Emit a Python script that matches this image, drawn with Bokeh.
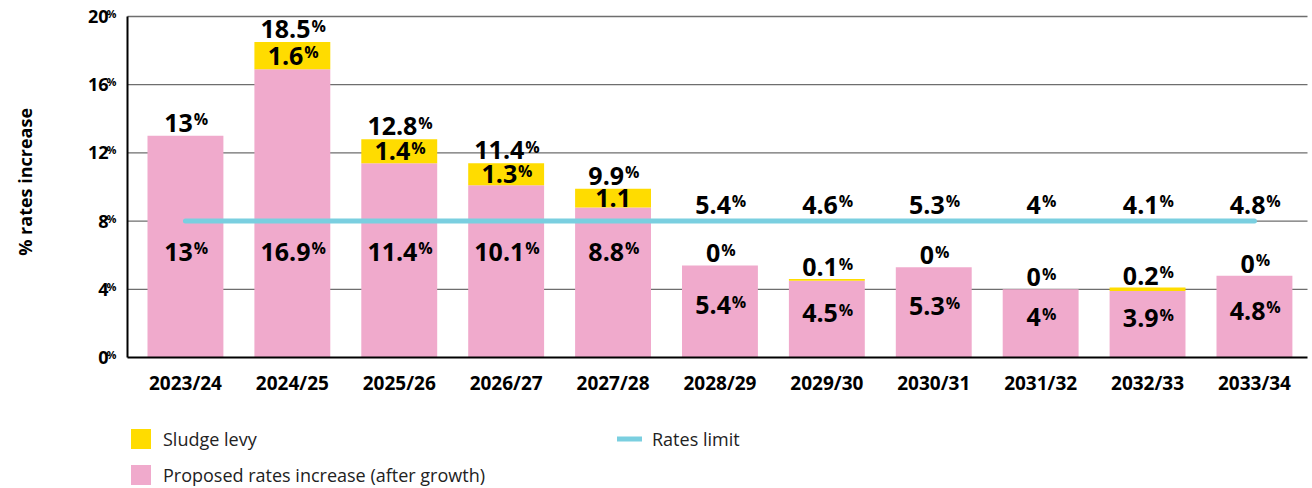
import numpy as np
from bokeh.plotting import figure
from bokeh.models import (ColumnDataSource, Range1d, LabelSet, Label, Legend, LegendItem)
from bokeh.embed import file_html
from bokeh.resources import INLINE
from bokeh.core.properties import value

# ---------------- data ----------------
categories = ["2023/24", "2024/25", "2025/26", "2026/27", "2027/28", "2028/29",
              "2029/30", "2030/31", "2031/32", "2032/33", "2033/34"]
proposed = [13, 16.9, 11.4, 10.1, 8.8, 5.4, 4.5, 5.3, 4, 3.9, 4.8]
sludge = [0, 1.6, 1.4, 1.3, 1.1, 0, 0.1, 0, 0, 0.2, 0]
totals = [13, 18.5, 12.8, 11.4, 9.9, 5.4, 4.6, 5.3, 4, 4.1, 4.8]
sludge_labels = ["", "1.6%", "1.4%", "1.3%", "1.1", "0%", "0.1%", "0%", "0%", "0.2%", "0%"]
rates_limit = [8, 8, 8, 8, 8, 8, 8, 8, 8, 8, 8]
y_ticks = [0, 4, 8, 12, 16, 20]

PINK = "#F0AACC"
YELLOW = "#FFDC00"
BLUE = "#7ACFE0"
GRID = "#6e6e6e"
FONT = "Open Sans"

NUM_SIZE = 25
PCT_SIZE = 16
CAP = 0.714

W, H = 1312, 488
AXIS_PX, BAND_PX, RIGHT_PX = 127, 131.5, 1307   # axis line, first band start, grid end
PLOT_TOP, PLOT_BOTTOM = 16, 357
n = len(categories)
CAT_PX = 106.9                                   # pixels per category
Y_MAX = y_ticks[-1]
PX_PER_UNIT = (PLOT_BOTTOM - PLOT_TOP) / Y_MAX


def text_width(s, size):
    w = 0.0
    for ch in s:
        if ch.isdigit():
            w += 0.572
        elif ch == ".":
            w += 0.28
        elif ch == "%":
            w += 0.86
        elif ch == "/":
            w += 0.37
        else:
            w += 0.5
    return w * size


def fmt(v):
    return f"{v:g}"


# ---------------- figure: frame covers whole canvas ----------------
x_start = -BAND_PX / CAT_PX
x_end = (W - BAND_PX) / CAT_PX
y_start = -(H - PLOT_BOTTOM) / PX_PER_UNIT
y_end = Y_MAX + PLOT_TOP / PX_PER_UNIT
axis_x = (AXIS_PX - BAND_PX) / CAT_PX
grid_x1 = (RIGHT_PX - BAND_PX) / CAT_PX

p = figure(x_range=Range1d(x_start, x_end), y_range=Range1d(y_start, y_end),
           width=W, height=H, output_backend="svg", toolbar_location=None,
           x_axis_location=None, y_axis_location=None,
           min_border=0, min_border_left=0, min_border_right=0,
           min_border_top=0, min_border_bottom=0)
p.outline_line_color = None
p.xgrid.visible = False
p.ygrid.visible = False
p.background_fill_color = "white"
p.border_fill_color = "white"

xs = [i + 0.5 for i in range(n)]
src = ColumnDataSource(dict(x=xs, cat=categories, proposed=proposed, sludge=sludge,
                            totals=totals, limit=rates_limit))

# grid lines
gy = y_ticks[1:]
p.segment(x0=[axis_x] * len(gy), x1=[grid_x1] * len(gy), y0=gy, y1=gy,
          line_color=GRID, line_width=1.3)

r_pink = p.vbar(x="x", top="proposed", bottom=0, width=0.71, source=src,
                fill_color=PINK, line_color=None)
r_yel = p.vbar(x="x", bottom="proposed", top="totals", width=0.71, source=src,
               fill_color=YELLOW, line_color=None)

# axis lines
p.segment(x0=[axis_x, axis_x], y0=[0, 0], x1=[grid_x1, axis_x], y1=[0, Y_MAX],
          line_color="black", line_width=2)

r_lim = p.line(x="x", y="limit", source=src, line_color=BLUE, line_width=5,
               line_cap="round")

# ---------------- value labels ----------------
recs = dict(x=[], y=[], num=[], pct=[], xo_num=[], xo_pct=[], yo_num=[], yo_pct=[])


def add_label(x, y, text, base_off):
    has_pct = text.endswith("%")
    num = text[:-1] if has_pct else text
    wn = text_width(num, NUM_SIZE)
    wp = text_width("%", PCT_SIZE) if has_pct else 0
    gw = wn + wp
    recs["x"].append(x)
    recs["y"].append(y)
    recs["num"].append(num)
    recs["pct"].append("%" if has_pct else "")
    recs["xo_num"].append(-gw / 2)
    recs["xo_pct"].append(-gw / 2 + wn + 1)
    recs["yo_num"].append(base_off)
    recs["yo_pct"].append(base_off + (CAP * NUM_SIZE - CAP * PCT_SIZE))


half_cap = CAP * NUM_SIZE / 2
for x, pr, s, t, sl in zip(xs, proposed, sludge, totals, sludge_labels):
    add_label(x, max(t, 8.2), fmt(t) + "%", 4)
    if sl:
        if s >= 1:
            add_label(x, pr + s / 2, sl, -half_cap)
        else:
            add_label(x, t, sl, 3)
    py = 6.2 if pr >= 8 else pr / 2 + 0.35
    add_label(x, py, fmt(pr) + "%", -half_cap)

lsrc = ColumnDataSource(recs)
p.add_layout(LabelSet(x="x", y="y", text="num", source=lsrc, x_offset="xo_num",
                      y_offset="yo_num", text_align="left", text_baseline="alphabetic",
                      text_font=value(FONT), text_font_style="bold",
                      text_font_size=f"{NUM_SIZE}px", text_color="black"))
p.add_layout(LabelSet(x="x", y="y", text="pct", source=lsrc, x_offset="xo_pct",
                      y_offset="yo_pct", text_align="left", text_baseline="alphabetic",
                      text_font=value(FONT), text_font_style="bold",
                      text_font_size=f"{PCT_SIZE}px", text_color="black"))

# ---------------- x tick labels ----------------
xsrc = ColumnDataSource(dict(x=xs, y=[0] * n, t=categories))
p.add_layout(LabelSet(x="x", y="y", text="t", source=xsrc, y_offset=-32.5,
                      text_align="center", text_baseline="alphabetic",
                      text_font=value(FONT), text_font_style="bold",
                      text_font_size="19px", text_color="black"))

# ---------------- y tick labels with superscript % ----------------
tsrc = ColumnDataSource(dict(x=[axis_x] * len(y_ticks), y=y_ticks,
                             t=[fmt(v) for v in y_ticks], pct=["%"] * len(y_ticks)))
p.add_layout(LabelSet(x="x", y="y", text="t", source=tsrc, x_offset=-19,
                      text_align="right", text_baseline="alphabetic", y_offset=-6.4,
                      text_font=value(FONT), text_font_style="bold",
                      text_font_size="18px", text_color="black"))
p.add_layout(LabelSet(x="x", y="y", text="pct", source=tsrc, x_offset=-11,
                      text_align="right", text_baseline="alphabetic", y_offset=-1.5,
                      text_font=value(FONT), text_font_style="bold",
                      text_font_size="11px", text_color="black"))

p.add_layout(Label(x=24, y=10.3, x_units="screen", text="% rates increase",
                   angle=np.pi / 2, text_align="center", text_baseline="middle",
                   text_font=FONT, text_font_style="bold",
                   text_font_size="18px", text_color="black"))

# ---------------- legend ----------------
legend = Legend(items=[LegendItem(label="Sludge levy", renderers=[r_yel]),
                       LegendItem(label="Proposed rates increase (after growth)", renderers=[r_pink]),
                       LegendItem(label="Rates limit", renderers=[r_lim])],
                location=(128, 1), orientation="vertical", nrows=2,
                glyph_width=25, glyph_height=25, label_standoff=10, label_width=443,
                label_height=25, spacing=11, padding=0, margin=0,
                border_line_color=None, background_fill_alpha=0,
                label_text_font=FONT, label_text_font_size="18px",
                label_text_color="#222222")
p.add_layout(legend, "center")

open("out.html", "w").write(file_html(p, INLINE))
